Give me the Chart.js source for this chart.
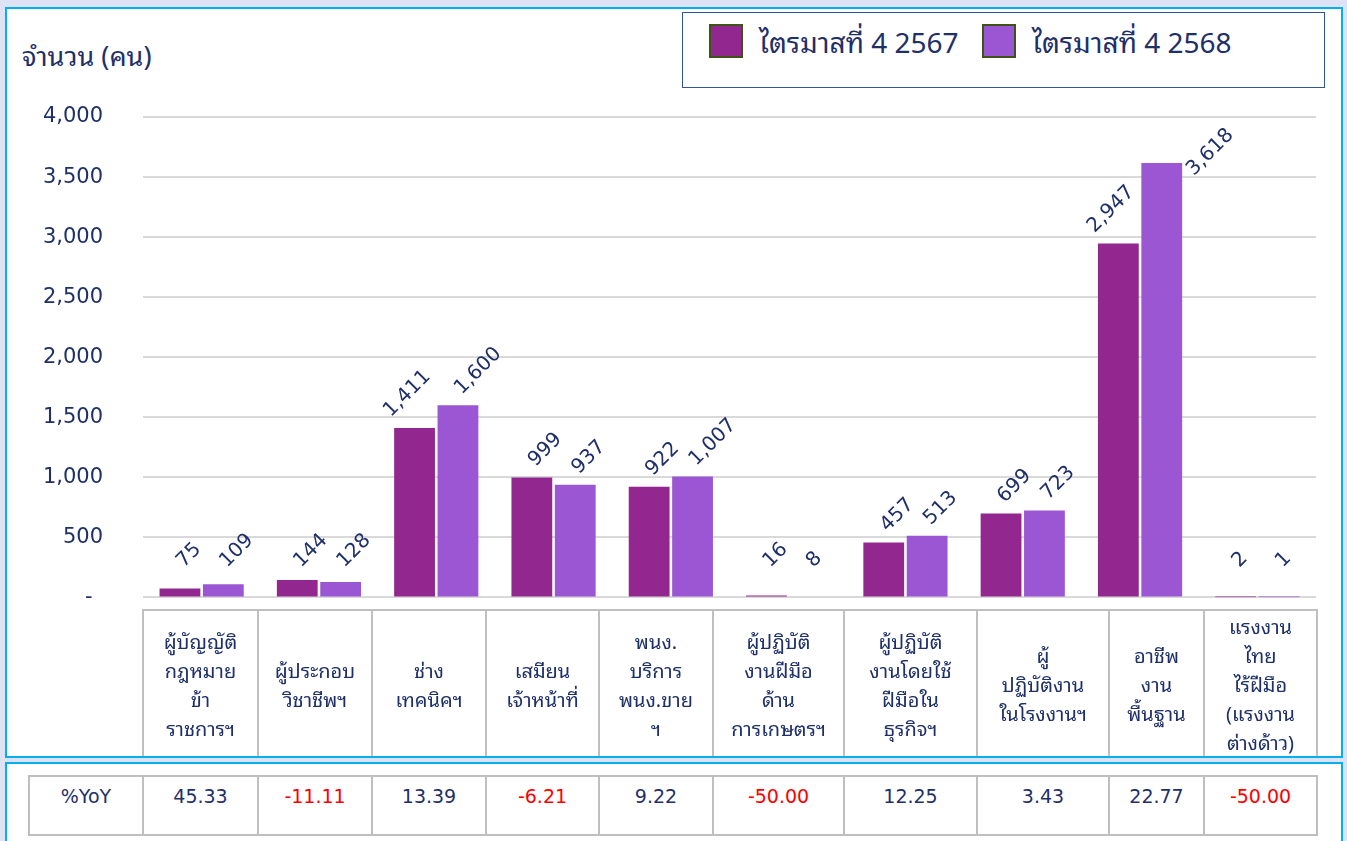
<!DOCTYPE html>
<html lang="th">
<head>
<meta charset="utf-8">
<title>จำนวน (คน)</title>
<script src="https://cdn.jsdelivr.net/npm/chart.js@4.4.4/dist/chart.umd.min.js"></script>
<style>
    html, body { margin: 0; padding: 0; }
    body {
        width: 1347px; height: 841px; overflow: hidden; position: relative;
        background: #dde3f4;
        font-family: "Noto Sans Thai Looped", "Noto Sans Thai", "Noto Sans", "DejaVu Sans", sans-serif;
        color: #1f3069;
    }
    .panel {
        position: absolute; box-sizing: border-box; background: #fff;
        border: 2px solid #00b0f0;
    }
    #topPanel { left: 5px; top: 7px; width: 1338px; height: 751px; }
    #bottomPanel { left: 5px; top: 762px; width: 1338px; height: 100px; }
    #chart { position: absolute; left: 0; top: 0; }
    #yTitle { position: absolute; left: 22px; top: 32px; font-size: 27px; white-space: nowrap; }
    #legend {
        position: absolute; left: 682px; top: 12px; width: 643px; height: 76px;
        box-sizing: border-box; border: 1.5px solid #2f5597;
    }
    #legend .item { position: absolute; top: 5px; display: flex; align-items: center; font-size: 28px; white-space: nowrap; }
    #legend .swatch { width: 30px; height: 30px; border: 2px solid #3f5317; margin-right: 16px; }
    table { position: absolute; border-collapse: collapse; table-layout: fixed; }
    td { text-align: center; padding: 0; }
    #cats { left: 142px; top: 609px; width: 1174px; height: 141px; }
    #cats td {
        border-left: 2px solid #bfbfbf; border-right: 2px solid #bfbfbf; border-top: 2px solid #bfbfbf;
        vertical-align: middle; font-size: 20px; line-height: 29px;
    }
    #yoy { left: 28px; top: 775px; width: 1287px; height: 61px; }
    #yoy td {
        border: 2px solid #bfbfbf; vertical-align: top; padding-top: 8px;
        font-family: "DejaVu Sans", sans-serif; font-size: 19px;
    }
    #yoy td.neg { color: #ff0000; }
</style>
</head>
<body>
<div id="topPanel" class="panel"></div>
<div id="bottomPanel" class="panel"></div>
<div id="yTitle">จำนวน (คน)</div>
<div id="legend"></div>
<canvas id="chart" width="1347" height="650"></canvas>
<table id="cats"><tr></tr></table>
<table id="yoy"><tr></tr></table>
<script>
// ข้อมูลจากกราฟ
const categories = [
    ['ผู้บัญญัติ', 'กฎหมาย', 'ข้า', 'ราชการฯ'],
    ['ผู้ประกอบ', 'วิชาชีพฯ'],
    ['ช่าง', 'เทคนิคฯ'],
    ['เสมียน', 'เจ้าหน้าที่'],
    ['พนง.', 'บริการ', 'พนง.ขาย', 'ฯ'],
    ['ผู้ปฏิบัติ', 'งานฝีมือ', 'ด้าน', 'การเกษตรฯ'],
    ['ผู้ปฏิบัติ', 'งานโดยใช้', 'ฝีมือใน', 'ธุรกิจฯ'],
    ['ผู้', 'ปฏิบัติงาน', 'ในโรงงานฯ'],
    ['อาชีพ', 'งาน', 'พื้นฐาน'],
    ['แรงงาน', 'ไทย', 'ไร้ฝีมือ', '(แรงงาน', 'ต่างด้าว)']
];
const seriesLabels = ['ไตรมาสที่ 4 2567', 'ไตรมาสที่ 4 2568'];
const q4_2567 = [75, 144, 1411, 999, 922, 16, 457, 699, 2947, 2];
const q4_2568 = [109, 128, 1600, 937, 1007, 8, 513, 723, 3618, 1];
const yoyLabel = '%YoY';
const yoyPct = [45.33, -11.11, 13.39, -6.21, 9.22, -50.00, 12.25, 3.43, 22.77, -50.00];
const yMin = 0;
const yMax = 4000;
const yStep = 500;

// column widths of the label table under the plot (px)
const colWidths = [115, 114, 114, 113, 114, 131, 133, 132, 95, 113];
const firstColWidth = 114;

const navy = '#1f3069';
const barColors = ['#92278f', '#9b57d3'];
const numFont = '"DejaVu Sans", sans-serif';

const fmt = v => v.toLocaleString('en-US');

// rotated value labels, nudged off the neighbouring bar like Excel does
const barLabels = {
    id: 'barLabels',
    afterDatasetsDraw(chart) {
        const ctx = chart.ctx;
        const top = chart.chartArea.top;
        const metas = chart.data.datasets.map((ds, di) => chart.getDatasetMeta(di));
        ctx.save();
        ctx.font = '20px ' + numFont;
        ctx.fillStyle = navy;
        ctx.textAlign = 'left';
        ctx.textBaseline = 'middle';
        chart.data.datasets.forEach((ds, di) => {
            metas[di].data.forEach((bar, i) => {
                const text = fmt(ds.data[i]);
                const rise = ctx.measureText(text).width * Math.SQRT1_2;
                let x = bar.x;
                let y = Math.min(bar.y - 14, bar.base - 32);
                if (y - rise - 5 < top + 10) {
                    // no room above: put it beside the bar
                    x = bar.x + bar.width / 2 + 8;
                    y = top + 15 + rise;
                }
                const next = metas[di + 1] && metas[di + 1].data[i];
                if (next) {
                    const right = x + rise + 5;
                    const left = next.x - next.width / 2;
                    if (right > left - 5 && y + 3 > next.y) x -= right - (left - 5);
                }
                ctx.save();
                ctx.translate(x, y);
                ctx.rotate(-Math.PI / 4);
                ctx.fillText(text, 0, 0);
                ctx.restore();
            });
        });
        ctx.restore();
    }
};

// note: the y axis adds ticks.padding below the last label, so the canvas runs past the plot
const chart = new Chart(document.getElementById('chart'), {
    type: 'bar',
    data: {
        labels: categories,
        datasets: [
            { label: seriesLabels[0], data: q4_2567, backgroundColor: barColors[0] },
            { label: seriesLabels[1], data: q4_2568, backgroundColor: barColors[1] }
        ]
    },
    options: {
        responsive: false,
        animation: false,
        devicePixelRatio: 1,
        layout: { padding: { top: 117, right: 31, bottom: 0, left: 0 } },
        datasets: { bar: { categoryPercentage: 0.74, barPercentage: 0.94 } },
        plugins: { legend: { display: false }, tooltip: { enabled: false } },
        scales: {
            x: { display: false },
            y: {
                min: yMin,
                max: yMax,
                afterFit: scale => { scale.width = 143; },
                border: { display: false },
                grid: { color: '#d9d9d9', lineWidth: 2, drawTicks: false },
                ticks: {
                    stepSize: yStep,
                    padding: 40,
                    color: navy,
                    font: { family: numFont, size: 21 },
                    callback: v => v === 0 ? '-\u2002' : fmt(v)
                }
            }
        }
    },
    plugins: [barLabels]
});

// legend
const legend = document.getElementById('legend');
const legendLeft = [26, 299];
chart.data.datasets.forEach((ds, i) => {
    const item = document.createElement('div');
    item.className = 'item';
    item.style.left = legendLeft[i] + 'px';
    item.innerHTML = `<span class="swatch" style="background:${ds.backgroundColor}"></span><span>${ds.label}</span>`;
    legend.appendChild(item);
});

// category label table (border-collapse: each cell carries 2px of border)
const catRow = document.querySelector('#cats tr');
categories.forEach((lines, i) => {
    const td = document.createElement('td');
    td.style.width = (colWidths[i] - 2) + 'px';
    td.innerHTML = lines.join('<br>');
    catRow.appendChild(td);
});

// %YoY table
const yoyRow = document.querySelector('#yoy tr');
const head = document.createElement('td');
head.style.width = (firstColWidth - 2) + 'px';
head.textContent = yoyLabel;
yoyRow.appendChild(head);
yoyPct.forEach((v, i) => {
    const td = document.createElement('td');
    td.style.width = (colWidths[i] - 2) + 'px';
    td.textContent = v.toFixed(2);
    if (v < 0) td.className = 'neg';
    yoyRow.appendChild(td);
});
</script>
</body>
</html>
